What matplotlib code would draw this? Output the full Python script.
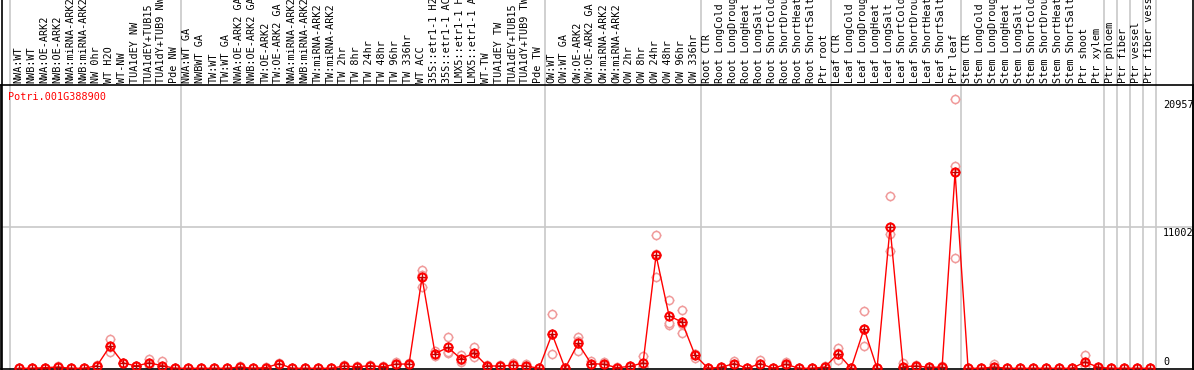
'''
Expression profile of Potri.001G388900 across poplar samples
'''

import matplotlib
matplotlib.use('Agg')
import matplotlib.pyplot as plt
from matplotlib.lines import Line2D
import matplotlib.transforms as mtransforms

gene = "Potri.001G388900"

samples = [
    "NWA:WT", "NWB:WT", "NWA:OE-ARK2", "NWB:OE-ARK2", "NWA:miRNA-ARK2", "NWB:miRNA-ARK2",
    "NW 0hr", "WT H2O", "WT-NW", "TUA1dEY NW", "TUA1dEY+TUB15", "TUA1dY+TUB9 NW", "Pde NW",
    "NWA:WT GA", "NWBWT GA", "TW:WT", "TW:WT GA", "NWA:OE-ARK2 GA", "NWB:OE-ARK2 GA",
    "TW:OE-ARK2", "TW:OE-ARK2 GA", "NWA:miRNA-ARK2", "NWB:miRNA-ARK2", "TW:miRNA-ARK2",
    "TW:miRNA-ARK2", "TW 2hr", "TW 8hr", "TW 24hr", "TW 48hr", "TW 96hr", "TW 336hr",
    "WT ACC", "35S::etr1-1 H2", "35S::etr1-1 AC", "LMX5::etr1-1 H", "LMX5::etr1-1 A",
    "WT-TW", "TUA1dEY TW", "TUA1dEY+TUB15", "TUA1dY+TUB9 TW", "Pde TW",
    "OW:WT", "OW:WT GA", "OW:OE-ARK2", "OW:OE-ARK2 GA", "OW:miRNA-ARK2", "OW:miRNA-ARK2",
    "OW 2hr", "OW 8hr", "OW 24hr", "OW 48hr", "OW 96hr", "OW 336hr",
    "Root CTR", "Root LongCold", "Root LongDroug", "Root LongHeat", "Root LongSalt",
    "Root ShortCold", "Root ShortDrou", "Root ShortHeat", "Root ShortSalt", "Ptr root",
    "Leaf CTR", "Leaf LongCold", "Leaf LongDroug", "Leaf LongHeat", "Leaf LongSalt",
    "Leaf ShortCold", "Leaf ShortDrou", "Leaf ShortHeat", "Leaf ShortSalt", "Ptr leaf",
    "Stem CTR", "Stem LongCold", "Stem LongDroug", "Stem LongHeat", "Stem LongSalt",
    "Stem ShortCold", "Stem ShortDrou", "Stem ShortHeat", "Stem ShortSalt", "Ptr shoot",
    "Ptr xylem", "Ptr phloem", "Ptr fiber", "Ptr vessel", "Ptr fiber vess",
]

# first sample of every group (vertical separators)
group_starts = [0, 13, 41, 53, 63, 73, 84, 85, 86, 87, 88]

mean_expr = [
    0, 0, 50, 100, 0, 0, 200, 1730, 420, 180, 420, 210, 0,
    0, 0, 0, 0, 100, 0, 50, 370, 0, 0, 0, 0, 180, 120, 200, 120, 330, 330,
    7070, 1150, 1620, 730, 1200, 180, 180, 240, 180, 0,
    2670, 0, 1940, 370, 310, 50, 150, 420, 8800, 4090, 3590, 1020,
    0, 80, 370, 0, 370, 0, 310, 0, 0, 100,
    1150, 0, 3080, 0, 10990, 130, 180, 80, 80, 15250,
    0, 0, 100, 0, 0, 0, 0, 0, 0, 500,
    80, 0, 0, 0, 0,
]

rep1 = [
    0, 0, 60, 150, 0, 0, 250, 2280, 450, 200, 730, 570, 0,
    0, 0, 0, 0, 150, 0, 80, 420, 0, 0, 0, 0, 250, 150, 250, 150, 470, 430,
    7620, 1350, 2410, 1030, 1650, 250, 220, 420, 320, 0,
    4220, 0, 2410, 580, 480, 80, 200, 940, 10370, 5340, 4560, 1150,
    0, 120, 580, 0, 630, 0, 480, 0, 0, 150,
    1600, 0, 4450, 0, 13410, 390, 250, 120, 150, 20957,
    0, 0, 300, 0, 0, 0, 0, 0, 0, 1000,
    120, 0, 0, 0, 0,
]

rep2 = [
    0, 0, 40, 80, 0, 0, 150, 1260, 400, 160, 300, 60, 0,
    0, 0, 0, 0, 80, 0, 40, 350, 0, 0, 0, 0, 150, 100, 180, 100, 280, 300,
    6340, 980, 1200, 500, 1040, 150, 160, 150, 120, 0,
    1150, 0, 1310, 270, 250, 40, 120, 200, 7130, 3380, 2730, 800,
    0, 60, 270, 0, 240, 0, 250, 0, 0, 80,
    640, 0, 1730, 0, 10430, 0, 150, 60, 50, 15770,
    0, 0, 0, 0, 0, 0, 0, 0, 0, 300,
    60, 0, 0, 0, 0,
]

rep3 = [
    0, 0, 50, 70, 0, 0, 200, 1650, 410, 180, 230, 0, 0,
    0, 0, 0, 0, 70, 0, 30, 340, 0, 0, 0, 0, 140, 110, 170, 110, 240, 260,
    7250, 1120, 1250, 660, 910, 140, 160, 150, 100, 0,
    2640, 0, 2100, 260, 200, 30, 130, 120, 8900, 3550, 3480, 1110,
    0, 60, 260, 0, 240, 0, 200, 0, 0, 70,
    1210, 0, 3060, 0, 9100, 0, 140, 60, 40, 8620,
    0, 0, 0, 0, 0, 0, 0, 0, 0, 200,
    60, 0, 0, 0, 0,
]

ytick_vals = [0, 11002, 20957]

W, H = 1194, 370
fig = plt.figure(figsize=(W / 100, H / 100), dpi=100)
# plot area: x 1..1193 px, y 85..369 px (from top)
ax = fig.add_axes([1 / W, 1 / H, 1192 / W, 284 / H])

x = list(range(len(samples)))
light = '#f09a9a'

# replicates
for reps in (rep1, rep2, rep3):
    ax.plot(x, reps, ls='none', marker='+', ms=7.5, mew=1, color=light, zorder=2)
    ax.plot(x, reps, ls='none', marker='o', ms=5.8, mew=1.1, mec=light, mfc='white', zorder=2)

# mean profile
ax.plot(x, mean_expr, color='red', lw=1, zorder=3)
ax.plot(x, mean_expr, ls='none', marker='+', ms=7.5, mew=1, color='#c00000', zorder=4)
ax.plot(x, mean_expr, ls='none', marker='o', ms=5.8, mew=1.5, mec='red', mfc='none', zorder=5)

ax.set_xlim(-1.385, 90.3)
ax.set_ylim(-54, 22050)
ax.set_xticks([])
ax.set_yticks([])
for s in ('left', 'right', 'bottom', 'top'):
    ax.spines[s].set_color('black')
    ax.spines[s].set_linewidth(1.2)

# horizontal grid line at middle tick
ax.axhline(ytick_vals[1], color='#c8c8c8', lw=1.2, zorder=1)

# vertical group separators, run up through the label area
top_frac = H / 284
for k, g in enumerate(group_starts):
    pos = g - 0.55 if k > 0 else g - 0.69
    ax.axvline(pos, ymin=-0.01, ymax=top_frac, color='#c8c8c8', lw=1.2, clip_on=False, zorder=1)

# left / right border through label area
fig.add_artist(Line2D([1.5 / W, 1.5 / W], [0, 1], color='black', lw=1.2))
fig.add_artist(Line2D([1 - 1.2 / W, 1 - 1.2 / W], [0, 1], color='black', lw=1.2))

# sample labels
trans = mtransforms.blended_transform_factory(ax.transData, ax.transAxes)
for i, name in enumerate(samples):
    ax.text(i - 0.05, 1 + 2 / 284, name[:14], rotation=90, ha='center', va='bottom',
            fontsize=7.3, family='DejaVu Sans Mono', transform=trans, clip_on=False)

# gene name
fig.text(8 / W, 1 - 97 / H, gene, color='red', fontsize=7.3, family='DejaVu Sans Mono',
         ha='left', va='center')

# y value labels on the right
for v in ytick_vals:
    va = 'bottom' if v == 0 else 'top'
    off = 1 if v == 0 else -1
    ax.annotate(str(v), (1163 / W * W, v), xycoords=('figure pixels', 'data'),
                xytext=(0, off), textcoords='offset points', ha='left', va=va,
                fontsize=7.3, family='DejaVu Sans Mono', color='black')

fig.savefig('out.png', dpi=100)
